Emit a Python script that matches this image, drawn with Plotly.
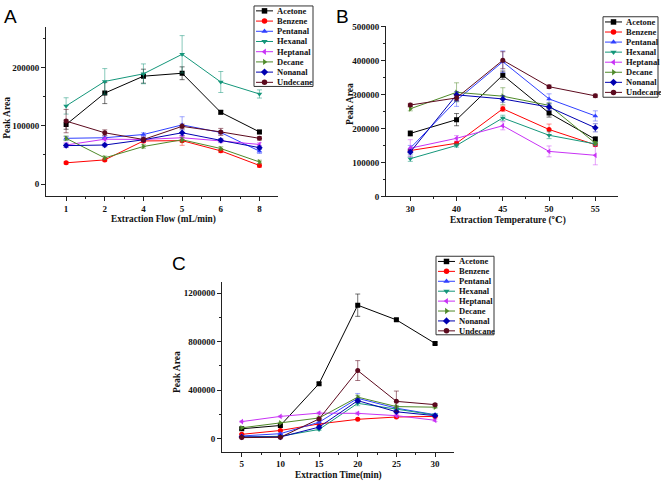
import plotly.graph_objects as go
import numpy as np

# ---------------- data ----------------
names = ["Acetone", "Benzene", "Pentanal", "Hexanal", "Heptanal", "Decane", "Nonanal", "Undecane"]

# Panel A: extraction flow
flow_labels = ["1", "2", "4", "5", "6", "8"]
a_acetone = [102000, 156000, 185000, 190000, 123000, 89500]
a_benzene = [36500, 41500, 74000, 74500, 57000, 32000]
a_pentanal = [78500, 79500, 85000, 101500, 88500, 56500]
a_hexanal = [134000, 176000, 189000, 222500, 175000, 154500]
a_heptanal = [67000, 77000, 76500, 79500, 74000, 68000]
a_decane = [78500, 45000, 64500, 76000, 61000, 38000]
a_nonanal = [66000, 67000, 76000, 88000, 75000, 62500]
a_undecane = [108000, 88000, 76500, 99000, 89500, 78500]
a_err_acetone = [8000, 18000, 12000, 11000, 3000, 3000]
a_err_benzene = [2000, 2000, 3000, 8000, 3000, 3000]
a_err_pentanal = [3000, 3000, 3000, 14000, 3000, 4000]
a_err_hexanal = [14000, 22000, 17000, 32000, 18000, 7000]
a_err_heptanal = [4000, 3000, 3000, 4000, 3000, 3000]
a_err_decane = [4000, 3000, 3000, 4000, 3000, 3000]
a_err_nonanal = [3000, 3000, 3000, 5000, 3000, 3000]
a_err_undecane = [20000, 5000, 4000, 4000, 6000, 3000]

# Panel B: extraction temperature
temp_labels = ["30", "40", "45", "50", "55"]
b_acetone = [185500, 226000, 357000, 245500, 168000]
b_benzene = [135000, 156500, 258000, 197000, 152000]
b_pentanal = [142000, 283000, 396500, 287000, 237000]
b_hexanal = [111000, 150000, 231000, 180000, 154500]
b_heptanal = [142000, 171000, 208000, 132500, 121000]
b_decane = [258000, 306500, 295000, 268000, 156500]
b_nonanal = [130500, 299000, 287000, 263000, 202000]
b_undecane = [269000, 290000, 401000, 323000, 296000]
b_err_acetone = [8000, 18000, 12000, 12000, 8000]
b_err_benzene = [6000, 5000, 8000, 16000, 5000]
b_err_pentanal = [8000, 18000, 32000, 15000, 15000]
b_err_hexanal = [8000, 5000, 8000, 10000, 5000]
b_err_heptanal = [25000, 8000, 12000, 16000, 28000]
b_err_decane = [6000, 28000, 25000, 8000, 5000]
b_err_nonanal = [6000, 10000, 10000, 10000, 12000]
b_err_undecane = [5000, 8000, 25000, 5000, 5000]

# Panel C: extraction time
time_labels = ["5", "10", "15", "20", "25", "30"]
c_acetone = [81000, 108000, 453000, 1100000, 979000, 785000]
c_benzene = [35000, 67000, 121000, 159000, 178000, 183000]
c_pentanal = [21500, 40500, 135000, 332000, 251000, 197000]
c_hexanal = [13500, 19000, 75500, 291000, 243000, 194000]
c_heptanal = [140000, 183000, 210000, 208000, 189000, 151000]
c_decane = [89000, 129000, 170000, 342000, 264000, 259000]
c_nonanal = [13500, 13500, 94500, 313000, 221000, 189000]
c_undecane = [8000, 11000, 162000, 561000, 307000, 280000]
c_err_acetone = [8000, 10000, 10000, 92000, 10000, 10000]
c_err_benzene = [5000, 5000, 5000, 5000, 5000, 5000]
c_err_pentanal = [5000, 5000, 8000, 40000, 15000, 10000]
c_err_hexanal = [3000, 3000, 8000, 20000, 10000, 10000]
c_err_heptanal = [5000, 5000, 8000, 10000, 8000, 10000]
c_err_decane = [5000, 5000, 8000, 15000, 10000, 8000]
c_err_nonanal = [3000, 3000, 8000, 15000, 10000, 8000]
c_err_undecane = [3000, 3000, 8000, 82000, 85000, 8000]

# ---------------- style ----------------
colors = ["#000000", "#ff0000", "#3040ff", "#14967a", "#c832f5", "#4f8a2a", "#0000b0", "#5c0a1e"]
err_colors = ["rgba(0,0,0,0.55)", "rgba(255,0,0,0.45)", "rgba(48,64,255,0.45)", "rgba(20,150,122,0.5)",
              "rgba(200,50,245,0.45)", "rgba(79,138,42,0.5)", "rgba(0,0,176,0.45)", "rgba(92,10,30,0.55)"]
symbols = ["square", "circle", "triangle-up", "triangle-down", "triangle-left", "triangle-right", "diamond", "circle"]

SERIF = "Liberation Serif, DejaVu Serif, serif"
W, H = 661, 487


def pxx(x):
    return x / W


def pxy(y):
    return 1 - y / H


panels = [
    dict(labels=flow_labels,
         vals=[a_acetone, a_benzene, a_pentanal, a_hexanal, a_heptanal, a_decane, a_nonanal, a_undecane],
         errs=[a_err_acetone, a_err_benzene, a_err_pentanal, a_err_hexanal, a_err_heptanal, a_err_decane,
               a_err_nonanal, a_err_undecane],
         xd=(46, 278), yd=(196, 23), xr=[-0.52, 5.48], yr=[-21000, 270000], dtick=100000, minor=50000,
         xtitle="Extraction Flow (mL/min)", xt_pos=(163, 220), yt_pos=(7, 116),
         letter="A", letter_pos=(10, 13),
         leg_box=(254, 2, 313, 84), leg_y0=7, leg_dy=10.4),
    dict(labels=temp_labels,
         vals=[b_acetone, b_benzene, b_pentanal, b_hexanal, b_heptanal, b_decane, b_nonanal, b_undecane],
         errs=[b_err_acetone, b_err_benzene, b_err_pentanal, b_err_hexanal, b_err_heptanal, b_err_decane,
               b_err_nonanal, b_err_undecane],
         xd=(386, 618), yd=(196, 22), xr=[-0.525, 4.49], yr=[0, 503000], dtick=100000, minor=50000,
         xtitle="Extraction Temperature (℃)", xt_pos=(508, 221), yt_pos=(350, 102),
         letter="B", letter_pos=(342, 13),
         leg_box=(603, 13, 658, 95), leg_y0=18.3, leg_dy=10.25),
    dict(labels=time_labels,
         vals=[c_acetone, c_benzene, c_pentanal, c_hexanal, c_heptanal, c_decane, c_nonanal, c_undecane],
         errs=[c_err_acetone, c_err_benzene, c_err_pentanal, c_err_hexanal, c_err_heptanal, c_err_decane,
               c_err_nonanal, c_err_undecane],
         xd=(222, 454), yd=(456, 283), xr=[-0.51, 5.49], yr=[-107000, 1293000], dtick=400000, minor=200000,
         xtitle="Extraction Time(min)", xt_pos=(338, 480), yt_pos=(177, 375),
         letter="C", letter_pos=(179, 264),
         leg_box=(436, 257, 494, 337), leg_y0=262.3, leg_dy=10.1),
]

fig = go.Figure()
annotations = []
shapes = []
layout = {}

for p_i, p in enumerate(panels):
    k = "" if p_i == 0 else str(p_i + 1)
    xa, ya = "x" + k, "y" + k
    n = len(p["labels"])
    xs = np.arange(n)
    for s_i, name in enumerate(names):
        fig.add_trace(go.Scatter(
            x=xs, y=p["vals"][s_i], mode="lines+markers", name=name, showlegend=False,
            xaxis=xa, yaxis=ya,
            line=dict(color=colors[s_i], width=1),
            marker=dict(symbol=symbols[s_i], size=5, color=colors[s_i]),
            error_y=dict(type="data", array=p["errs"][s_i], visible=True,
                         color=err_colors[s_i], thickness=1, width=2.5),
        ))
    layout["xaxis" + k] = dict(
        domain=[pxx(p["xd"][0]), pxx(p["xd"][1])], anchor=ya, range=p["xr"],
        tickmode="array", tickvals=list(xs), ticktext=p["labels"],
        showline=True, linecolor="#222", linewidth=1, ticks="outside", ticklen=4, tickcolor="#222",
        showgrid=False, zeroline=False,
        tickfont=dict(family=SERIF, size=9, color="#111", weight="bold"),
        minor=dict(tickmode="array", tickvals=list(np.arange(n - 1) + 0.5),
                   ticks="outside", ticklen=2, tickcolor="#222"),
    )
    layout["yaxis" + k] = dict(
        domain=[pxy(p["yd"][0]), pxy(p["yd"][1])], anchor=xa, range=p["yr"],
        tick0=0, dtick=p["dtick"], tickformat="d",
        showline=True, linecolor="#222", linewidth=1, ticks="outside", ticklen=4, tickcolor="#222",
        showgrid=False, zeroline=False,
        tickfont=dict(family=SERIF, size=9, color="#111", weight="bold"),
        minor=dict(dtick=p["minor"], tick0=0, ticks="outside", ticklen=2, tickcolor="#222"),
    )
    # axis titles
    annotations.append(dict(x=p["xt_pos"][0], y=p["xt_pos"][1], xref="x4", yref="y4", text=p["xtitle"],
                            showarrow=False, xanchor="center", yanchor="middle",
                            font=dict(family=SERIF, size=9.3, color="#111", weight="bold")))
    annotations.append(dict(x=p["yt_pos"][0], y=p["yt_pos"][1], xref="x4", yref="y4", text="Peak Area",
                            showarrow=False, xanchor="center", yanchor="middle", textangle=-90,
                            font=dict(family=SERIF, size=9.5, color="#111", weight="bold")))
    # panel letter
    annotations.append(dict(x=p["letter_pos"][0], y=p["letter_pos"][1], xref="x4", yref="y4", text=p["letter"],
                            showarrow=False, xanchor="center", yanchor="middle",
                            font=dict(family="Liberation Sans, Arial, sans-serif", size=19, color="#000")))
    # manual legend
    x0, y0, x1, y1 = p["leg_box"]
    shapes.append(dict(type="rect", xref="x4", yref="y4", x0=x0, y0=y0, x1=x1, y1=y1,
                       line=dict(color="#333", width=1), fillcolor="rgba(0,0,0,0)"))
    for s_i, name in enumerate(names):
        yy = p["leg_y0"] + s_i * p["leg_dy"]
        fig.add_trace(go.Scatter(
            x=[x0 + 2, x0 + 19], y=[yy, yy], mode="lines", showlegend=False,
            xaxis="x4", yaxis="y4", hoverinfo="skip",
            line=dict(color=colors[s_i], width=1),
        ))
        fig.add_trace(go.Scatter(
            x=[x0 + 10.5], y=[yy], mode="markers", showlegend=False,
            xaxis="x4", yaxis="y4", hoverinfo="skip",
            marker=dict(symbol=symbols[s_i], size=5.5, color=colors[s_i]),
        ))
        annotations.append(dict(x=x0 + 20.5, y=yy, xref="x4", yref="y4", text=name, showarrow=False,
                                xanchor="left", yanchor="middle",
                                font=dict(family=SERIF, size=8.5, color="#111", weight="bold")))

layout["xaxis4"] = dict(domain=[0, 1], range=[0, W], anchor="y4", visible=False, fixedrange=True)
layout["yaxis4"] = dict(domain=[0, 1], range=[H, 0], anchor="x4", visible=False, fixedrange=True)

fig.update_layout(
    width=W, height=H, margin=dict(l=0, r=0, t=0, b=0),
    paper_bgcolor="white", plot_bgcolor="rgba(0,0,0,0)",
    showlegend=False, annotations=annotations, shapes=shapes,
    **layout,
)

fig.write_html("out.html")
